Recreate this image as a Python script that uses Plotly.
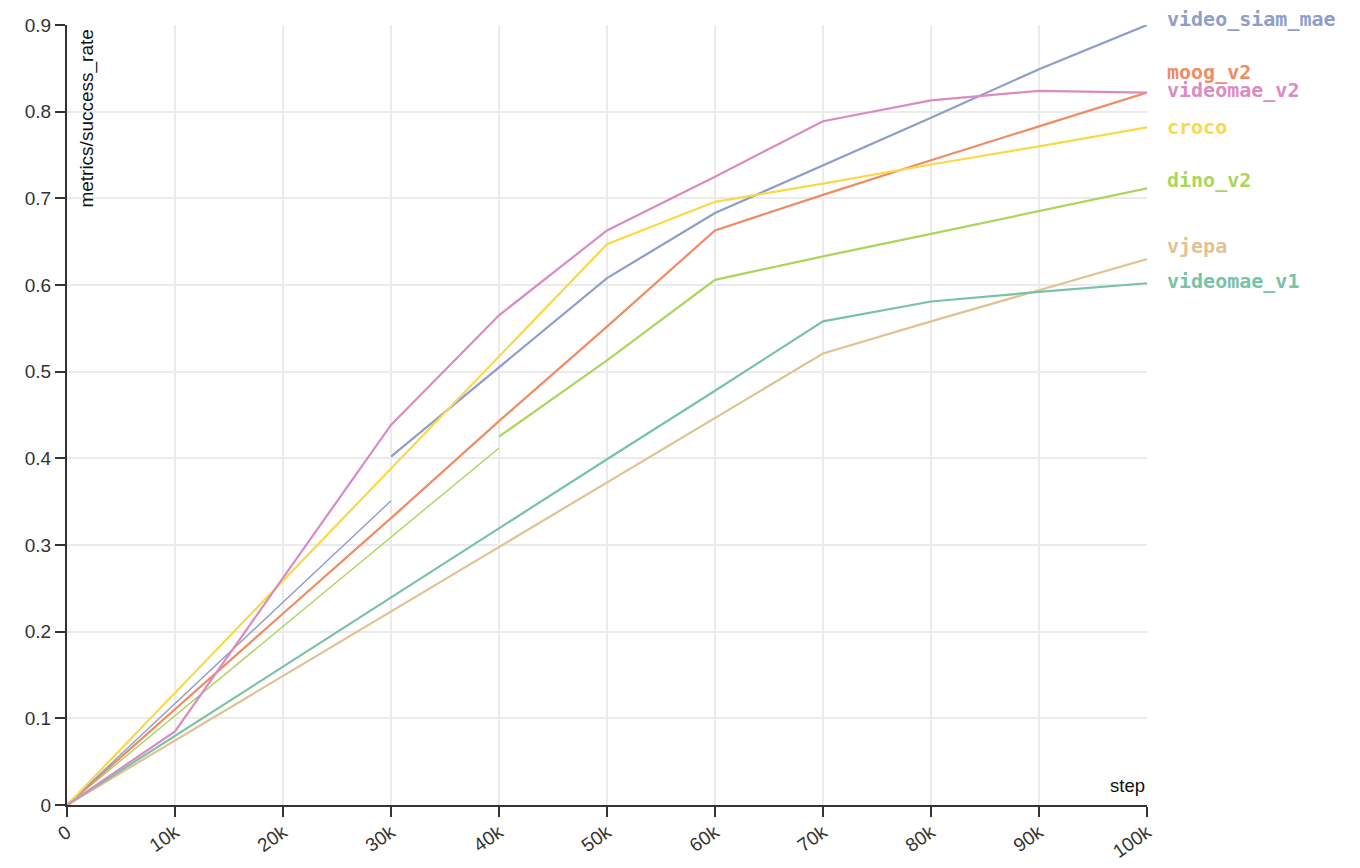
import plotly.graph_objects as go

# steps and success-rate values
steps = [0, 10000, 20000, 30000, 40000, 50000, 60000, 70000, 80000, 90000, 100000]

videomae_v1_vals = [0, 0.080, 0.159, 0.239, 0.319, 0.399, 0.478, 0.558, 0.581, 0.592, 0.602]
vjepa_vals = [0, 0.0745, 0.149, 0.223, 0.298, 0.372, 0.447, 0.521, 0.558, 0.594, 0.630]
moog_v2_vals = [0, 0.111, 0.221, 0.331, 0.443, 0.552, 0.663, 0.704, 0.744, 0.783, 0.822]
videomae_v2_vals = [0, 0.085, 0.262, 0.4385, 0.565, 0.663, 0.725, 0.789, 0.813, 0.824, 0.822]
croco_vals = [0, 0.1295, 0.259, 0.3885, 0.518, 0.647, 0.696, 0.717, 0.739, 0.760, 0.782]

# runs that were resumed: two pieces each
siam_steps_a = [0, 10000, 20000, 30000]
siam_vals_a = [0, 0.117, 0.234, 0.351]
siam_steps_b = [30000, 40000, 50000, 60000, 70000, 80000, 90000, 100000]
siam_vals_b = [0.402, 0.505, 0.608, 0.683, 0.738, 0.793, 0.849, 0.900]

dino_steps_a = [0, 10000, 20000, 30000, 40000]
dino_vals_a = [0, 0.103, 0.206, 0.309, 0.412]
dino_steps_b = [40000, 50000, 60000, 70000, 80000, 90000, 100000]
dino_vals_b = [0.425, 0.513, 0.606, 0.633, 0.659, 0.685, 0.7115]

x_tick_vals = [0, 10000, 20000, 30000, 40000, 50000, 60000, 70000, 80000, 90000, 100000]
x_tick_text = ["0", "10k", "20k", "30k", "40k", "50k", "60k", "70k", "80k", "90k", "100k"]
y_tick_vals = [0, 0.1, 0.2, 0.3, 0.4, 0.5, 0.6, 0.7, 0.8, 0.9]
y_tick_text = ["0", "0.1", "0.2", "0.3", "0.4", "0.5", "0.6", "0.7", "0.8", "0.9"]

colors = {
    "videomae_v1": "#78c2a6",
    "moog_v2": "#ee8c64",
    "video_siam_mae": "#8e9ec9",
    "videomae_v2": "#d98cc3",
    "dino_v2": "#acd55e",
    "croco": "#f9d949",
    "vjepa": "#e1c393",
}

# (name, steps, values, line width)
segments = [
    ("vjepa", steps, vjepa_vals, 2.2),
    ("videomae_v1", steps, videomae_v1_vals, 2.2),
    ("dino_v2", dino_steps_a, dino_vals_a, 1.4),
    ("dino_v2", dino_steps_b, dino_vals_b, 2.2),
    ("moog_v2", steps, moog_v2_vals, 2.2),
    ("video_siam_mae", siam_steps_a, siam_vals_a, 1.4),
    ("video_siam_mae", siam_steps_b, siam_vals_b, 2.2),
    ("croco", steps, croco_vals, 2.2),
    ("videomae_v2", steps, videomae_v2_vals, 2.2),
]

# end labels: name, last value, vertical nudge (px) to avoid overlaps
end_labels = [
    ("video_siam_mae", siam_vals_b[-1], 6),
    ("moog_v2", moog_v2_vals[-1], 21),
    ("videomae_v2", videomae_v2_vals[-1], 3),
    ("croco", croco_vals[-1], 0),
    ("dino_v2", dino_vals_b[-1], 8),
    ("vjepa", vjepa_vals[-1], 13),
    ("videomae_v1", videomae_v1_vals[-1], 2),
]

fig = go.Figure()
for name, xs, ys, w in segments:
    fig.add_trace(go.Scatter(x=xs, y=ys, mode="lines", name=name,
                             line=dict(color=colors[name], width=w),
                             showlegend=False))

for name, last, nudge in end_labels:
    fig.add_annotation(x=1, xref="paper", y=last, yref="y",
                       xanchor="left", yanchor="middle", xshift=18,
                       yshift=nudge, showarrow=False,
                       text="<b>" + name + "</b>",
                       font=dict(family="DejaVu Sans Mono", size=20,
                                 color=colors[name]))

fig.add_annotation(x=0, xref="paper", y=0.88, yref="paper",
                   xanchor="center", yanchor="middle", xshift=20,
                   textangle=-90, showarrow=False,
                   text="metrics/success_rate",
                   font=dict(family="Liberation Sans", size=19, color="#111"))
fig.add_annotation(x=1, xref="paper", y=0, yref="paper",
                   xanchor="right", yanchor="bottom", yshift=7,
                   showarrow=False, text="step",
                   font=dict(family="Liberation Sans", size=18.5, color="#111"))

axis_style = dict(
    showline=True, linecolor="#333", linewidth=2,
    showgrid=True, gridcolor="#ebebeb", gridwidth=1.5,
    zeroline=False, ticks="outside", ticklen=10, tickwidth=1.5,
    tickcolor="#333", automargin=False,
    tickfont=dict(family="Liberation Sans", size=19, color="#333"),
)

# the page adds an 8px body margin, so the figure is sized to fit the window
fig.update_layout(
    width=1352, height=860,
    margin=dict(l=59, r=213, t=17, b=63),
    plot_bgcolor="white", paper_bgcolor="white",
    xaxis=dict(range=[0, 100000], tickvals=x_tick_vals,
               ticktext=x_tick_text, tickangle=-35,
               ticklabelstandoff=-3, **axis_style),
    yaxis=dict(range=[0, 0.9], tickvals=y_tick_vals,
               ticktext=y_tick_text, **axis_style),
)

fig.write_html("out.html")
